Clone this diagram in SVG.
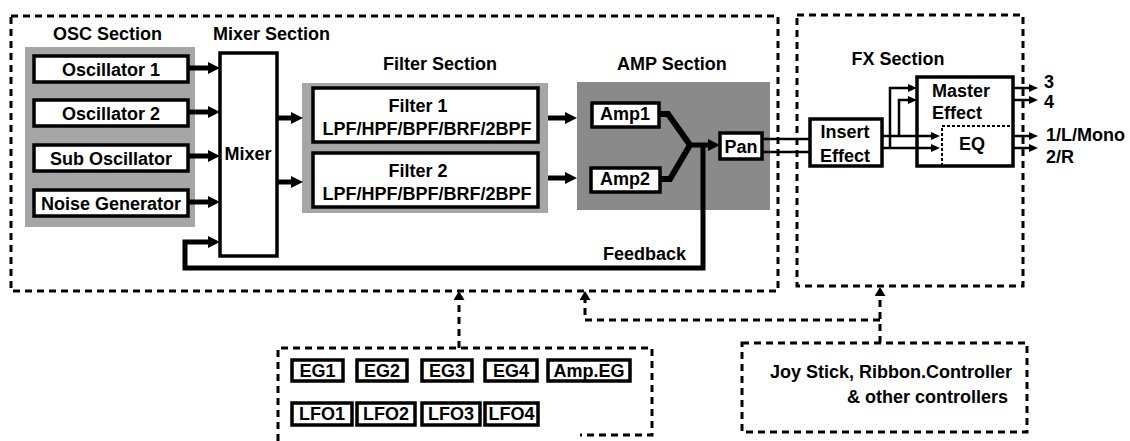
<svg xmlns="http://www.w3.org/2000/svg" width="1130" height="441" viewBox="0 0 1130 441">
<style>
.t{font-family:"Liberation Sans",Arial,sans-serif;font-weight:bold;font-size:18px;fill:#000}
.c{text-anchor:middle}
.e{text-anchor:end}
.box{fill:#fff;stroke:#000;stroke-width:3.5}
.bgl{fill:#a6a6a6}
.bgd{fill:#8a8a8a}
.dash{fill:none;stroke:#000;stroke-width:3;stroke-dasharray:7 5}
.thick{fill:none;stroke:#000;stroke-width:5}
.thin{fill:none;stroke:#000;stroke-width:2.5}
</style>
<defs>
<marker id="ah" markerUnits="userSpaceOnUse" markerWidth="12" markerHeight="12" refX="2" refY="6" orient="auto"><path d="M0,0 L12,6 L0,12 z" fill="#000"/></marker>
<marker id="as" markerUnits="userSpaceOnUse" markerWidth="9" markerHeight="8" refX="2" refY="4" orient="auto"><path d="M0,0 L9,4 L0,8 z" fill="#000"/></marker>
<marker id="au" markerUnits="userSpaceOnUse" markerWidth="9" markerHeight="11" refX="2" refY="5.5" orient="auto"><path d="M0,0 L9,5.5 L0,11 z" fill="#000"/></marker>
</defs>
<rect fill="#fff" width="1130" height="441"/>

<g id="main-section">
<rect class="dash" x="11" y="16" width="767" height="275"/>
<text class="t" x="53" y="40">OSC Section</text>
<text class="t" x="213" y="40">Mixer Section</text>
<text class="t c" x="440" y="70">Filter Section</text>
<text class="t" x="617" y="70">AMP Section</text>
</g>
<g id="fx-section">
<rect class="dash" x="797" y="15" width="226" height="271"/>
<text class="t c" x="898" y="65">FX Section</text>
</g>

<g id="osc-bg"><rect class="bgl" x="25" y="47" width="170" height="180"/></g>
<g id="osc1"><rect class="box" x="34" y="56" width="154" height="26"/><text class="t c" x="111" y="76">Oscillator 1</text></g>
<g id="osc2"><rect class="box" x="34" y="100" width="154" height="26"/><text class="t c" x="111" y="120">Oscillator 2</text></g>
<g id="subosc"><rect class="box" x="34" y="145" width="154" height="26"/><text class="t c" x="111" y="165">Sub Oscillator</text></g>
<g id="noise"><rect class="box" x="34" y="190" width="154" height="26"/><text class="t c" x="111" y="210">Noise Generator</text></g>

<g id="mixer"><rect class="box" x="220" y="53" width="57" height="203"/><text class="t c" x="248" y="160">Mixer</text></g>

<g id="filter-bg"><rect class="bgl" x="302" y="83" width="246" height="130"/></g>
<g id="filter1"><rect class="box" x="313" y="88" width="225" height="54"/><text class="t c" x="418" y="112">Filter 1</text><text class="t c" x="427" y="135">LPF/HPF/BPF/BRF/2BPF</text></g>
<g id="filter2"><rect class="box" x="313" y="153" width="225" height="54"/><text class="t c" x="418" y="177">Filter 2</text><text class="t c" x="427" y="200">LPF/HPF/BPF/BRF/2BPF</text></g>

<g id="amp-bg"><rect class="bgd" x="577" y="82" width="193" height="128"/></g>
<g id="amp1"><rect class="box" x="592" y="103" width="67" height="24"/><text class="t c" x="625" y="120">Amp1</text></g>
<g id="amp2"><rect class="box" x="591" y="168" width="69" height="24"/><text class="t c" x="625" y="185">Amp2</text></g>
<g id="pan"><rect class="box" x="720" y="133" width="42" height="26"/><text class="t c" x="741" y="153">Pan</text></g>

<g id="insert"><rect class="box" x="810" y="119" width="72" height="47"/><text class="t c" x="845" y="138">Insert</text><text class="t c" x="845" y="162">Effect</text></g>
<g id="master"><rect class="box" x="917" y="77" width="96" height="89"/><text class="t" x="932" y="97">Master</text><text class="t" x="932" y="119">Effect</text>
<path d="M942,166 V126 H1011" fill="none" stroke="#000" stroke-width="2" stroke-dasharray="3 2"/>
<text class="t c" x="972" y="150">EQ</text></g>

<g id="mod-sources">
<path class="dash" d="M278,441 V348 H652 V435 H580"/>
<rect class="box" x="292" y="360" width="51" height="21"/><text class="t c" x="317.5" y="377">EG1</text>
<rect class="box" x="357" y="360" width="50" height="21"/><text class="t c" x="382" y="377">EG2</text>
<rect class="box" x="422" y="360" width="50" height="21"/><text class="t c" x="447" y="377">EG3</text>
<rect class="box" x="485" y="360" width="52" height="21"/><text class="t c" x="511" y="377">EG4</text>
<rect class="box" x="548" y="360" width="82" height="21"/><text class="t c" x="589" y="377">Amp.EG</text>
<rect class="box" x="292" y="403" width="60" height="22"/><text class="t c" x="322" y="420">LFO1</text>
<rect class="box" x="357" y="403" width="58" height="22"/><text class="t c" x="386" y="420">LFO2</text>
<rect class="box" x="422" y="403" width="58" height="22"/><text class="t c" x="451" y="420">LFO3</text>
<rect class="box" x="485" y="403" width="53" height="22"/><text class="t c" x="511.5" y="420">LFO4</text>
</g>

<g id="controllers">
<rect class="dash" x="742" y="343" width="285" height="89"/>
<text class="t e" x="1012" y="378">Joy Stick, Ribbon.Controller</text>
<text class="t e" x="1008" y="403">&amp; other controllers</text>
</g>

<g id="connectors">
<path class="thick" marker-end="url(#ah)" d="M188,68 H210"/>
<path class="thick" marker-end="url(#ah)" d="M188,112 H210"/>
<path class="thick" marker-end="url(#ah)" d="M188,156 H210"/>
<path class="thick" marker-end="url(#ah)" d="M188,202 H210"/>
<path class="thick" marker-end="url(#ah)" d="M703,145 V268 H185 V242 H210"/>
<path class="thick" marker-end="url(#ah)" d="M277,118 H293"/>
<path class="thick" marker-end="url(#ah)" d="M277,182 H293"/>
<path class="thick" marker-end="url(#ah)" d="M548,118 H567"/>
<path class="thick" marker-end="url(#ah)" d="M548,178 H567"/>
<path fill="none" stroke="#000" stroke-width="6" d="M659,114 H668 L690,145 L670,179 H660"/>
<path class="thick" marker-end="url(#ah)" d="M688,145 H710"/>
<path class="thin" d="M762,139 H810 M762,152 H810"/>
<path class="thin" marker-end="url(#as)" d="M882,136 H933"/>
<path class="thin" marker-end="url(#as)" d="M882,148 H933"/>
<path class="thin" marker-end="url(#as)" d="M890,148 V88 H910"/>
<path class="thin" marker-end="url(#as)" d="M899,136 V100 H910"/>
<path class="thin" marker-end="url(#as)" d="M1013,88 H1031"/>
<path class="thin" marker-end="url(#as)" d="M1013,100 H1031"/>
<path class="thin" marker-end="url(#as)" d="M1013,136 H1031"/>
<path class="thin" marker-end="url(#as)" d="M1013,148 H1031"/>
<path class="dash" marker-end="url(#au)" d="M459,348 V298"/>
<path class="dash" marker-end="url(#au)" d="M880,343 V294"/>
<path class="dash" marker-end="url(#au)" d="M880,320 H585 V298"/>
</g>
<g id="labels">
<text class="t" x="603" y="260">Feedback</text>
<text class="t" x="1044" y="88">3</text>
<text class="t" x="1044" y="108">4</text>
<text class="t" x="1046" y="141">1/L/Mono</text>
<text class="t" x="1046" y="163">2/R</text>
</g>
</svg>
